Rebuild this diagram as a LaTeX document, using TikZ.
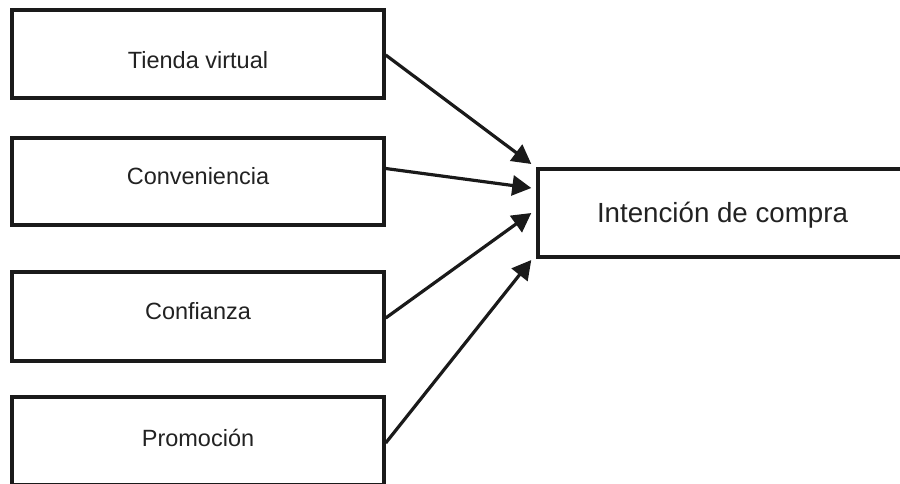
\documentclass[tikz,border=0pt]{standalone}
\usepackage{fontspec}
\setmainfont{Liberation Sans}
\usetikzlibrary{arrows.meta}
\definecolor{ink}{HTML}{1A1A1A}
\definecolor{txtc}{HTML}{222222}
\tikzset{
  factor/.style={draw=ink, line width=3.4pt, minimum width=372pt, minimum height=88pt, inner sep=0pt, fill=white},
  lbl/.style={text=txtc, font=\fontsize{23.5pt}{28pt}\selectfont, anchor=base, inner sep=0pt},
  tlbl/.style={text=txtc, font=\fontsize{27.7pt}{32pt}\selectfont, anchor=base, inner sep=0pt},
  link/.style={draw=ink, line width=3.2pt, -{Triangle[length=19pt,width=20pt]}}
}
\begin{document}
\begin{tikzpicture}[x=1pt,y=-1pt]
\useasboundingbox (0,0) rectangle (900,483);
\clip (0,0) rectangle (900,483);
\fill[white] (0,0) rectangle (900,483);
% left boxes
\node[factor] (b1) at (198,54) {};
\node[factor, minimum height=87pt] (b2) at (198,181.5) {};
\node[factor, minimum height=89pt] (b3) at (198,316.5) {};
\node[factor] (b4) at (198,441) {};
\node[lbl] (l1) at (198,68.5) {Tienda virtual};
\node[lbl] (l2) at (198,184) {Conveniencia};
\node[lbl] (l3) at (198,319) {Confianza};
\node[lbl] (l4) at (198,446) {Promoción};
% target box
\node[factor, minimum width=369pt] (t) at (722.5,213) {};
\node[tlbl] (tl) at (722.5,222) {Intención de compra};
% arrows
\coordinate (e1) at ([xshift=-5pt,yshift=49pt]t.west);
\coordinate (e2) at ([xshift=-5pt,yshift=25pt]t.west);
\coordinate (e3) at ([xshift=-5pt,yshift=0pt]t.west);
\coordinate (e4) at ([xshift=-5pt,yshift=-47pt]t.west);
\draw[link] ([yshift=-1pt]b1.east) -- (e1);
\draw[link] ([yshift=13pt]b2.east) -- (e2);
\draw[link] ([yshift=-1.5pt]b3.east) -- (e3);
\draw[link] ([yshift=-2pt]b4.east) -- (e4);
\end{tikzpicture}
\end{document}
